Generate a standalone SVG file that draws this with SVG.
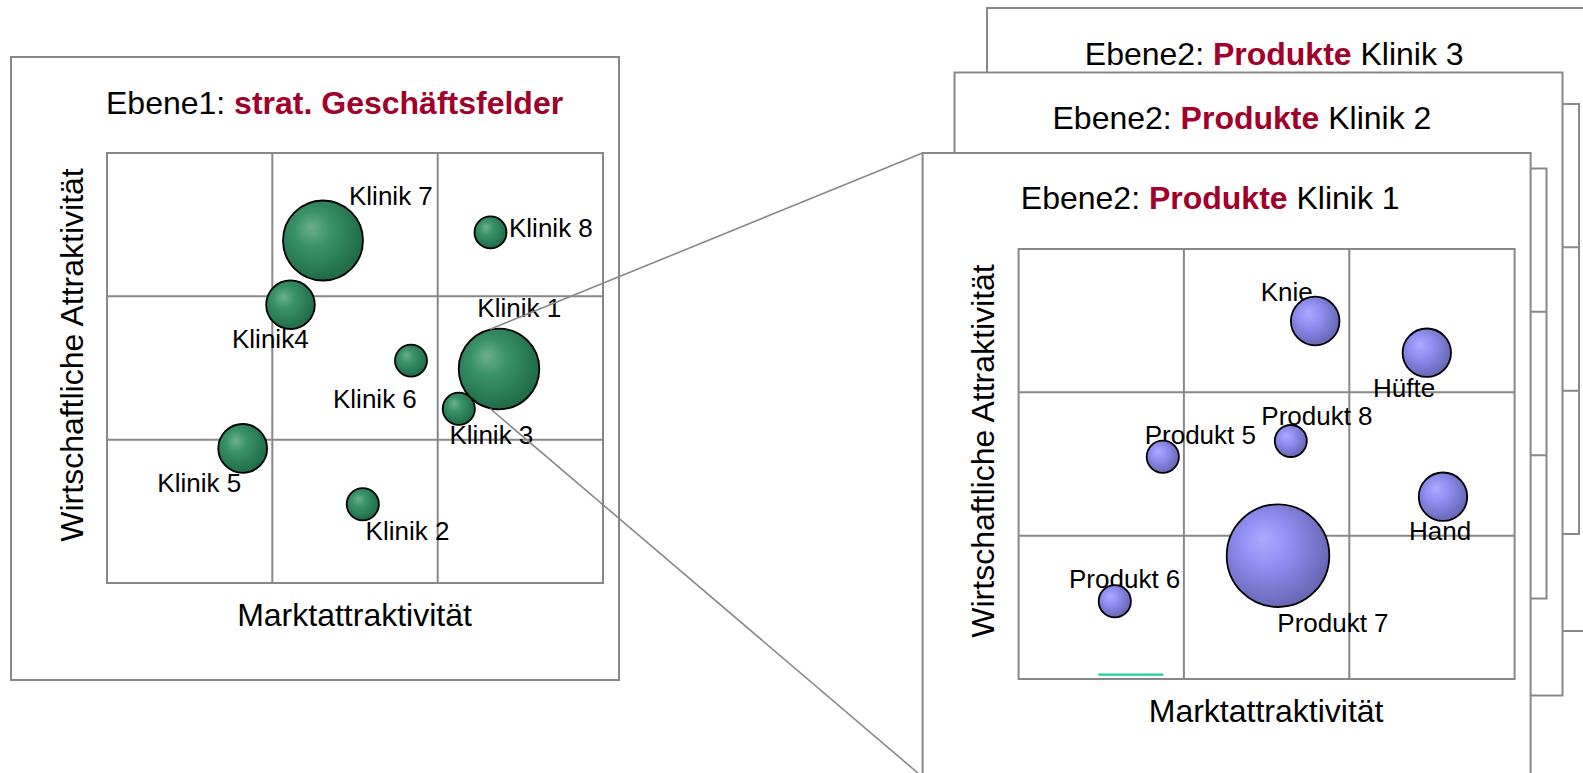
<svg xmlns="http://www.w3.org/2000/svg" xmlns:xlink="http://www.w3.org/1999/xlink" width="1583" height="773" viewBox="0 0 1583 773">
<style>
.panel{fill:#fff;stroke:#888;stroke-width:2}
.plot{fill:none;stroke:#888;stroke-width:2}
.grid{fill:none;stroke:#888;stroke-width:2}
.conn{fill:none;stroke:#888;stroke-width:1.6}
.t{font-family:"Liberation Sans",Arial,Helvetica,sans-serif;fill:#000}
.title{font-size:32px}
.hl{font-weight:bold;fill:#a0002a}
.ax{font-size:32px}
.lb{font-size:26px}
.bg{fill:url(#gGreen);stroke:#000;stroke-width:1.8}
.bb{fill:url(#gBlue);stroke:#000;stroke-width:1.8}
.teal{stroke:#1ecc99;stroke-width:2.2}
</style>
<defs>
<radialGradient id="gGreen" cx="0.42" cy="0.42" r="0.62" fx="0.35" fy="0.33">
<stop offset="0" stop-color="#6eae90"/>
<stop offset="0.35" stop-color="#3a9468"/>
<stop offset="1" stop-color="#1d6844"/>
</radialGradient>
<radialGradient id="gBlue" cx="0.42" cy="0.42" r="0.62" fx="0.35" fy="0.33">
<stop offset="0" stop-color="#ababff"/>
<stop offset="0.4" stop-color="#8f8ff2"/>
<stop offset="1" stop-color="#6464b0"/>
</radialGradient>
<g id="frame">
<rect class="panel" x="0" y="0" width="608" height="623"/>
<rect class="plot" x="96" y="96" width="496" height="430"/>
<path class="grid" d="M261.3 96V526M426.7 96V526M96 239.3H592M96 382.7H592"/>
</g>
</defs>

<g id="panel-ebene1">
<use xlink:href="#frame" href="#frame" transform="translate(11,57)"/>
<text class="t title" x="106" y="113.5">Ebene1: <tspan class="hl">strat. Geschäftsfelder</tspan></text>
<text class="t ax" x="354.5" y="625.7" text-anchor="middle">Marktattraktivität</text>
<text class="t ax" transform="translate(82.7,355) rotate(-90)" text-anchor="middle">Wirtschaftliche Attraktivität</text>
</g>

<g id="panel-klinik3">
<use xlink:href="#frame" href="#frame" transform="translate(987,8)"/>
<text class="t title" x="1084.8" y="64.5">Ebene2: <tspan class="hl">Produkte</tspan> Klinik 3</text>
</g>

<g id="panel-klinik2">
<use xlink:href="#frame" href="#frame" transform="translate(954.5,72.5)"/>
<text class="t title" x="1052.5" y="129">Ebene2: <tspan class="hl">Produkte</tspan> Klinik 2</text>
</g>

<g id="panel-klinik1">
<use xlink:href="#frame" href="#frame" transform="translate(922.6,153)"/>
<text class="t title" x="1020.8" y="209.3">Ebene2: <tspan class="hl">Produkte</tspan> Klinik 1</text>
<text class="t ax" x="1266.1" y="721.7" text-anchor="middle">Marktattraktivität</text>
<text class="t ax" transform="translate(994.3,451) rotate(-90)" text-anchor="middle">Wirtschaftliche Attraktivität</text>
<line class="teal" x1="1098.3" y1="674.7" x2="1163.3" y2="674.7"/>
</g>

<g id="klinik7"><text class="t lb" x="349" y="205">Klinik 7</text><circle class="bg" cx="323" cy="240.5" r="40"/></g>
<g id="klinik8"><text class="t lb" x="509" y="237">Klinik 8</text><circle class="bg" cx="490.5" cy="232.4" r="16"/></g>
<g id="klinik4"><text class="t lb" x="232" y="348">Klinik4</text><circle class="bg" cx="290.5" cy="304.7" r="24.3"/></g>
<g id="klinik6"><text class="t lb" x="333" y="408.4">Klinik 6</text><circle class="bg" cx="411" cy="360.6" r="16"/></g>
<g id="klinik1"><text class="t lb" x="477.3" y="317">Klinik 1</text><circle class="bg" cx="499" cy="369" r="40.3"/></g>
<g id="klinik3"><text class="t lb" x="449.5" y="444">Klinik 3</text><circle class="bg" cx="458.8" cy="408.7" r="16.1"/></g>
<g id="klinik5"><text class="t lb" x="157.3" y="492">Klinik 5</text><circle class="bg" cx="242.7" cy="448.4" r="24.4"/></g>
<g id="klinik2"><text class="t lb" x="365.6" y="540">Klinik 2</text><circle class="bg" cx="362.8" cy="504.3" r="16.1"/></g>

<g id="knie"><text class="t lb" x="1260.7" y="301">Knie</text><circle class="bb" cx="1315.2" cy="321" r="24.3"/></g>
<g id="huefte"><text class="t lb" x="1373" y="396.7">Hüfte</text><circle class="bb" cx="1426.8" cy="352.7" r="24.2"/></g>
<g id="produkt8"><text class="t lb" x="1261.3" y="425">Produkt 8</text><circle class="bb" cx="1290.8" cy="441" r="16"/></g>
<g id="produkt5"><text class="t lb" x="1144.7" y="444.3">Produkt 5</text><circle class="bb" cx="1162.8" cy="456.8" r="16.1"/></g>
<g id="hand"><text class="t lb" x="1409" y="540">Hand</text><circle class="bb" cx="1443" cy="496.7" r="24.2"/></g>
<g id="produkt7"><text class="t lb" x="1277.3" y="631.7">Produkt 7</text><circle class="bb" cx="1278" cy="555.7" r="51.3"/></g>
<g id="produkt6"><text class="t lb" x="1069" y="588.3">Produkt 6</text><circle class="bb" cx="1114.8" cy="601.2" r="16.1"/></g>

<g id="connectors">
<line class="conn" x1="490" y1="329.3" x2="922.6" y2="153"/>
<line class="conn" x1="490" y1="408.5" x2="922.6" y2="777"/>
</g>
</svg>
